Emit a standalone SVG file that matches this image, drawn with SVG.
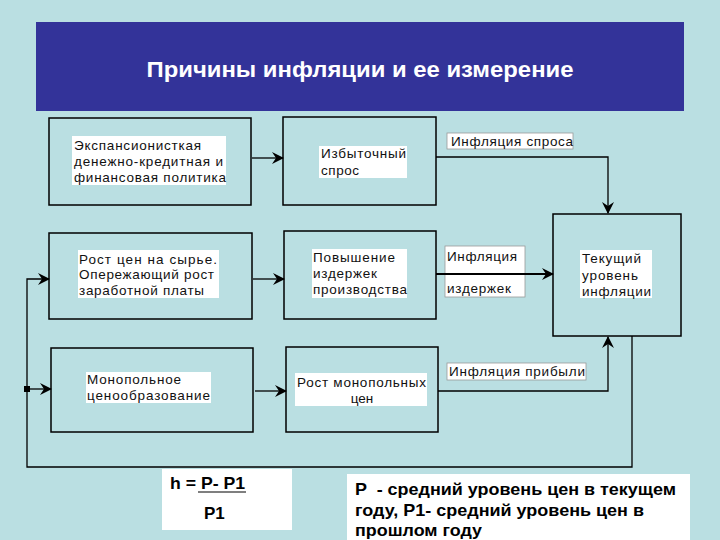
<svg xmlns="http://www.w3.org/2000/svg" width="720" height="540" viewBox="0 0 720 540">
<style>
.box{fill:none;stroke:#000;stroke-width:1.5}
.tbg{fill:#fff}
.lbg{fill:#fff;stroke:#999;stroke-width:0.8}
.t{font-family:"Liberation Sans",Arial,sans-serif;font-size:13.5px;fill:#111}
.c{fill:none;stroke:#000;stroke-width:1.3}
.b{font-family:"Liberation Sans",Arial,sans-serif;font-size:17px;font-weight:bold;fill:#000;white-space:pre}
</style>
<defs>
<marker id="ah" markerWidth="12" markerHeight="12" refX="11" refY="6" orient="auto" markerUnits="userSpaceOnUse">
<path d="M0,0 L12,6 L0,12 L4,6 Z" fill="#000"/>
</marker>
</defs>
<rect width="720" height="540" fill="#badfe2"/>
<g id="title">
<rect x="36" y="22" width="648" height="89" fill="#333399"/>
<text x="360" y="77" text-anchor="middle" font-family="'Liberation Sans',Arial,sans-serif" font-size="22" font-weight="bold" fill="#fff" textLength="427" lengthAdjust="spacingAndGlyphs">Причины инфляции и ее измерение</text>
</g>
<g id="connectors">
<line class="c" x1="252" y1="158" x2="283" y2="158" marker-end="url(#ah)"/>
<polyline class="c" points="436,157 608,157 608,213" marker-end="url(#ah)"/>
<line class="c" x1="253" y1="279" x2="284" y2="279" marker-end="url(#ah)"/>
<line x1="436" y1="274" x2="553" y2="274" stroke="#000" stroke-width="2.2" marker-end="url(#ah)"/>
<line class="c" x1="255" y1="391" x2="286" y2="391" marker-end="url(#ah)"/>
<polyline class="c" points="438,391 608,391 608,337" marker-end="url(#ah)"/>
<polyline class="c" points="632,336 632,467 27,467 27,279 49,279" marker-end="url(#ah)"/>
<line class="c" x1="27" y1="389" x2="51" y2="389" marker-end="url(#ah)"/>
<rect x="24" y="386" width="6" height="6" fill="#000"/>
</g>
<g id="n1">
<rect class="box" x="49" y="118" width="202" height="87"/>
<rect class="tbg" x="72" y="136" width="154" height="49"/>
<text class="t" x="74" y="150" textLength="127" lengthAdjust="spacing">Экспансионисткая</text>
<text class="t" x="74" y="166" textLength="149" lengthAdjust="spacing">денежно-кредитная и</text>
<text class="t" x="74" y="182" textLength="152" lengthAdjust="spacing">финансовая политика</text>
</g>
<g id="n2">
<rect class="box" x="283" y="117" width="153" height="88"/>
<rect class="tbg" x="319" y="146" width="88" height="32"/>
<text class="t" x="321" y="158" textLength="85" lengthAdjust="spacing">Избыточный</text>
<text class="t" x="321" y="175" textLength="38" lengthAdjust="spacing">спрос</text>
</g>
<g id="l1">
<rect class="lbg" x="447" y="133" width="126" height="16"/>
<text class="t" x="451" y="146" textLength="122" lengthAdjust="spacing">Инфляция спроса</text>
</g>
<g id="n3">
<rect class="box" x="49" y="233" width="203" height="86"/>
<rect class="tbg" x="78" y="250" width="141" height="48"/>
<text class="t" x="79" y="264" textLength="138" lengthAdjust="spacing">Рост цен на сырье.</text>
<text class="t" x="79" y="279" textLength="135" lengthAdjust="spacing">Опережающий рост</text>
<text class="t" x="79" y="295" textLength="125" lengthAdjust="spacing">заработной платы</text>
</g>
<g id="n4">
<rect class="box" x="284" y="231" width="152" height="88"/>
<rect class="tbg" x="312" y="249" width="95" height="49"/>
<text class="t" x="313" y="262" textLength="82" lengthAdjust="spacing">Повышение</text>
<text class="t" x="313" y="278" textLength="64" lengthAdjust="spacing">издержек</text>
<text class="t" x="313" y="294" textLength="94" lengthAdjust="spacing">производства</text>
</g>
<g id="l2">
<rect class="lbg" x="445" y="246" width="80" height="51"/>
<line x1="436" y1="274" x2="553" y2="274" stroke="#000" stroke-width="2.2"/>
<text class="t" x="447" y="261" textLength="70" lengthAdjust="spacing">Инфляция</text>
<text class="t" x="447" y="293" textLength="64" lengthAdjust="spacing">издержек</text>
</g>
<g id="n5">
<rect class="box" x="553" y="214" width="128" height="122"/>
<rect class="tbg" x="580" y="250" width="72" height="48"/>
<text class="t" x="582" y="263" textLength="59" lengthAdjust="spacing">Текущий</text>
<text class="t" x="582" y="280" textLength="56" lengthAdjust="spacing">уровень</text>
<text class="t" x="582" y="296" textLength="69" lengthAdjust="spacing">инфляции</text>
</g>
<g id="n6">
<rect class="box" x="51" y="348" width="202" height="84"/>
<rect class="tbg" x="86" y="372" width="125" height="31"/>
<text class="t" x="87" y="384" textLength="94" lengthAdjust="spacing">Монопольное</text>
<text class="t" x="87" y="400" textLength="123" lengthAdjust="spacing">ценообразование</text>
</g>
<g id="n7">
<rect class="box" x="286" y="347" width="152" height="85"/>
<rect class="tbg" x="295" y="373" width="132" height="33"/>
<text class="t" x="297" y="387" textLength="129" lengthAdjust="spacing">Рост монопольных</text>
<text class="t" x="362" y="403" text-anchor="middle">цен</text>
</g>
<g id="l3">
<rect class="lbg" x="447" y="363" width="139" height="17"/>
<text class="t" x="449" y="376" textLength="136" lengthAdjust="spacing">Инфляция прибыли</text>
</g>
<g id="formula">
<rect x="162" y="469" width="130" height="61" fill="#fff"/>
<text class="b" x="170" y="489" textLength="75" lengthAdjust="spacingAndGlyphs">h = P- P1</text>
<line x1="198" y1="492" x2="246" y2="492" stroke="#000" stroke-width="1.2"/>
<text class="b" x="204" y="519">P1</text>
</g>
<g id="legend">
<rect x="347" y="474" width="343" height="66" fill="#fff"/>
<text class="b" x="355" y="495" textLength="321" lengthAdjust="spacingAndGlyphs">P  - средний уровень цен в текущем</text>
<text class="b" x="355" y="516" textLength="289" lengthAdjust="spacingAndGlyphs">году, P1- средний уровень цен в</text>
<text class="b" x="355" y="536" textLength="127" lengthAdjust="spacingAndGlyphs">прошлом году</text>
</g>
</svg>
